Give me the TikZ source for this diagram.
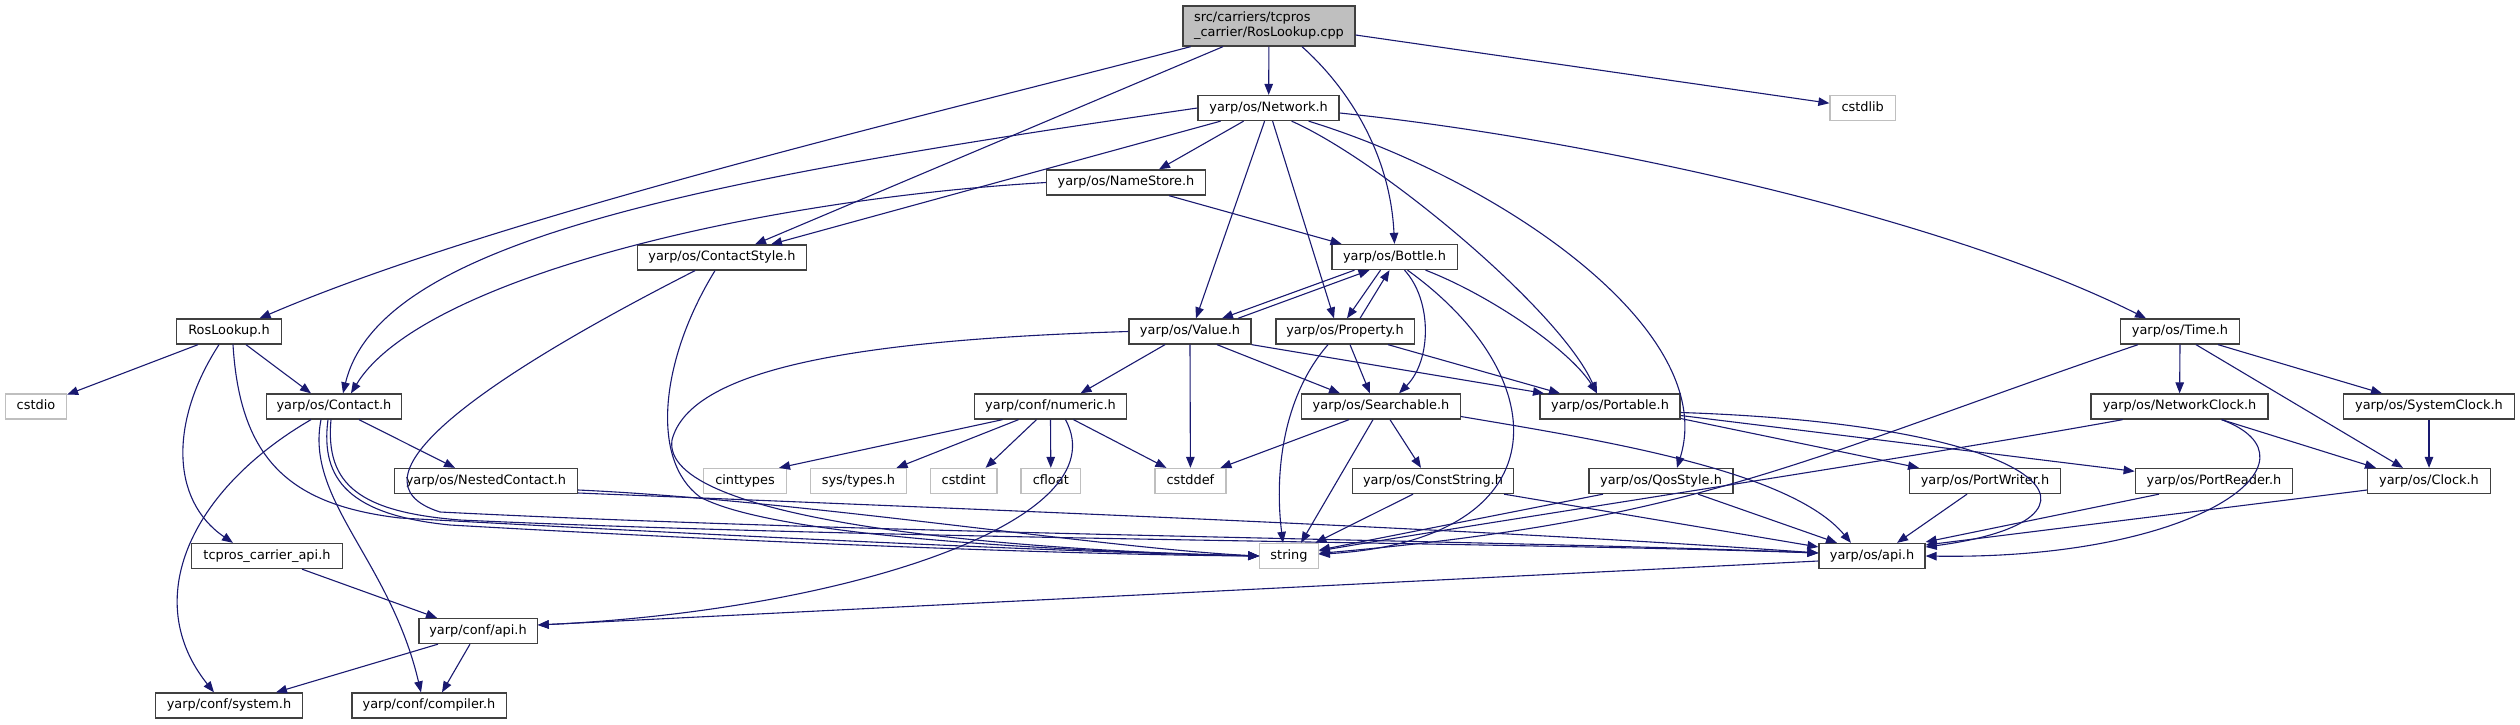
\documentclass[tikz,border=0pt]{standalone}
\usepackage{fontspec}
\setmainfont{DejaVu Sans}
\usetikzlibrary{arrows.meta}
\definecolor{edgeblue}{HTML}{191970}
\definecolor{boxgray}{HTML}{BFBFBF}
\definecolor{boxline}{HTML}{404040}
\newcommand{\dxfont}{\fontsize{12.9}{15}\selectfont}
\begin{document}
\begin{tikzpicture}[x=1pt,y=-1pt,
  incbox/.style={draw=boxline, line width=1.3pt, fill=white, minimum height=25pt, inner sep=0pt, font=\dxfont, text height=9.5pt, text depth=3pt},
  extbox/.style={incbox, draw=boxgray},
  rootbox/.style={draw=boxline, line width=1.3pt, fill=boxgray, minimum height=40pt, inner sep=0pt, font=\dxfont, align=left},
  dep/.style={draw=edgeblue, line width=1.1pt, -{Triangle[length=11pt,width=8.5pt]}}]
\useasboundingbox (0,0) rectangle (2520,724);
% nodes
\node[rootbox, minimum width=172pt] (cpp) at (1269,26) {src/carriers/tcpros\\\_carrier/RosLookup.cpp};
\node[incbox, minimum width=141pt] (network) at (1268.6,108) {yarp/os/Network.h};
\node[extbox, minimum width=65.4pt] (cstdlib) at (1862.7,108) {cstdlib};
\node[incbox, minimum width=158.6pt] (namestore) at (1126,182.5) {yarp/os/NameStore.h};
\node[incbox, minimum width=169pt] (contactstyle) at (722,257.5) {yarp/os/ContactStyle.h};
\node[incbox, minimum width=125.3pt] (bottle) at (1394.5,257) {yarp/os/Bottle.h};
\node[incbox, minimum width=104.5pt] (roslookup) at (229,331.5) {RosLookup.h};
\node[incbox, minimum width=122pt] (value) at (1190,331.5) {yarp/os/Value.h};
\node[incbox, minimum width=138.3pt] (property) at (1345,331.5) {yarp/os/Property.h};
\node[incbox, minimum width=119pt] (time) at (2180,331.5) {yarp/os/Time.h};
\node[extbox, minimum width=61pt] (cstdio) at (36,406.5) {cstdio};
\node[incbox, minimum width=135pt] (contact) at (334,406.5) {yarp/os/Contact.h};
\node[incbox, minimum width=152pt] (numeric) at (1050.5,406.5) {yarp/conf/numeric.h};
\node[incbox, minimum width=158.6pt] (searchable) at (1381,406.5) {yarp/os/Searchable.h};
\node[incbox, minimum width=140pt] (portable) at (1610,406.5) {yarp/os/Portable.h};
\node[incbox, minimum width=177pt] (networkclock) at (2179.6,406.5) {yarp/os/NetworkClock.h};
\node[incbox, minimum width=171pt] (systemclock) at (2429,406.5) {yarp/os/SystemClock.h};
\node[incbox, minimum width=183pt] (nested) at (486,481) {yarp/os/NestedContact.h};
\node[extbox, minimum width=82.5pt] (cinttypes) at (745,481) {cinttypes};
\node[extbox, minimum width=96pt] (systypes) at (858.5,481) {sys/types.h};
\node[extbox, minimum width=66.5pt] (cstdint) at (963.6,481) {cstdint};
\node[extbox, minimum width=59.5pt] (cfloat) at (1050.8,481) {cfloat};
\node[extbox, minimum width=71pt] (cstddef) at (1190.4,481) {cstddef};
\node[incbox, minimum width=160.7pt] (conststring) at (1433,481) {yarp/os/ConstString.h};
\node[incbox, minimum width=144pt] (qosstyle) at (1661,481) {yarp/os/QosStyle.h};
\node[incbox, minimum width=151pt] (portwriter) at (1985,481) {yarp/os/PortWriter.h};
\node[incbox, minimum width=157.5pt] (portreader) at (2214,481) {yarp/os/PortReader.h};
\node[incbox, minimum width=122.6pt] (clock) at (2429,481) {yarp/os/Clock.h};
\node[incbox, minimum width=151pt] (tcpapi) at (267,556) {tcpros\_carrier\_api.h};
\node[extbox, minimum width=58.4pt] (string) at (1289,556) {string};
\node[incbox, minimum width=106pt] (osapi) at (1872,556) {yarp/os/api.h};
\node[incbox, minimum width=118.3pt] (confapi) at (478,631) {yarp/conf/api.h};
\node[incbox, minimum width=146.8pt] (confsystem) at (229,705.5) {yarp/conf/system.h};
\node[incbox, minimum width=154.3pt] (confcompiler) at (429,705.5) {yarp/conf/compiler.h};
% cpp
\draw[dep] (cpp) .. controls (950,110) and (500,215) .. (roslookup);
\draw[dep] ([xshift=-46pt]cpp.south) -- ([xshift=33pt]contactstyle.north);
\draw[dep] (cpp) -- (network);
\draw[dep] ([xshift=33pt]cpp.south) .. controls (1345,85) and (1390,150) .. (bottle.north);
\draw[dep] ([yshift=-9pt]cpp.east) -- (cstdlib);
% network
\draw[dep] (network.west) .. controls (700,180) and (380,240) .. ([xshift=9pt]contact.north);
\draw[dep] ([xshift=-48pt]network.south) -- ([xshift=49pt]contactstyle.north);
\draw[dep] ([xshift=-25pt]network.south) -- ([xshift=33pt]namestore.north);
\draw[dep] ([xshift=-4pt]network.south) -- ([xshift=6pt]value.north);
\draw[dep] ([xshift=4pt]network.south) -- ([xshift=-11pt]property.north);
\draw[dep] ([xshift=23pt]network.south) .. controls (1380,160) and (1560,310) .. ([xshift=-13pt]portable.north);
\draw[dep] ([xshift=40pt]network.south) .. controls (1500,180) and (1720,330) .. ([xshift=16pt]qosstyle.north);
\draw[dep] ([yshift=-5pt]network.east) .. controls (1600,140) and (1950,220) .. ([xshift=-34pt]time.north);
% namestore
\draw[dep] (namestore.west) .. controls (750,200) and (420,280) .. ([xshift=17pt]contact.north);
\draw[dep] ([xshift=43pt]namestore.south) -- ([xshift=-53pt]bottle.north);
% contactstyle
\draw[dep] ([xshift=-27pt]contactstyle.south) .. controls (480,380) and (340,480) .. (440,512) .. controls (900,535) and (1500,540) .. ([yshift=3pt]osapi.west);
\draw[dep] ([xshift=-7pt]contactstyle.south) .. controls (660,360) and (650,460) .. (700,497) .. controls (780,540) and (1100,552) .. (string.west);
% roslookup
\draw[dep] ([xshift=-31pt]roslookup.south) -- (cstdio);
\draw[dep] ([xshift=17pt]roslookup.south) -- ([xshift=-23pt]contact.north);
\draw[dep] ([xshift=-10pt]roslookup.south) .. controls (170,420) and (170,500) .. ([xshift=-34pt]tcpapi.north);
\draw[dep] ([xshift=4pt]roslookup.south) .. controls (240,460) and (290,505) .. (400,518) .. controls (800,540) and (1100,553) .. (string.west);
% contact
\draw[dep] ([xshift=25pt]contact.south) -- ([xshift=-31pt]nested.north);
\draw[dep] ([xshift=-23pt]contact.south) .. controls (190,490) and (140,600) .. ([xshift=-15pt]confsystem.north);
\draw[dep] ([xshift=-13pt]contact.south) .. controls (305,500) and (390,560) .. ([xshift=-8pt]confcompiler.north);
\draw[dep] ([xshift=-6pt]contact.south) .. controls (320,480) and (350,515) .. (450,525) .. controls (800,545) and (1100,555) .. (string.west);
\draw[dep] ([xshift=-3pt]contact.south) .. controls (325,485) and (360,512) .. (460,520) .. controls (900,540) and (1500,542) .. ([yshift=3pt]osapi.west);
% nested
\draw[dep] ([yshift=-9pt]nested.east) .. controls (800,500) and (1100,548) .. (string.west);
\draw[dep] ([yshift=-12pt]nested.east) .. controls (1000,510) and (1500,530) .. ([yshift=3pt]osapi.west);
% tcpapi / conf
\draw[dep] ([xshift=35pt]tcpapi.south) -- ([xshift=-41pt]confapi.north);
\draw[dep] ([xshift=-40pt]confapi.south) -- ([xshift=47pt]confsystem.north);
\draw[dep] ([xshift=-8pt]confapi.south) -- ([xshift=13pt]confcompiler.north);
% bottle
\draw[dep] ([xshift=-40pt]bottle.south) -- ([xshift=32pt]value.north);
\draw[dep] ([xshift=48pt]value.north) -- ([xshift=-25pt]bottle.south);
\draw[dep] ([xshift=-14pt]bottle.south) -- ([xshift=2pt]property.north);
\draw[dep] ([xshift=15pt]property.north) -- ([xshift=-5pt]bottle.south);
\draw[dep] ([xshift=10pt]bottle.south) .. controls (1432,300) and (1432,360) .. ([xshift=18pt]searchable.north);
\draw[dep] ([xshift=13pt]bottle.south) .. controls (1560,380) and (1560,540) .. (string);
\draw[dep] ([xshift=31pt]bottle.south) .. controls (1490,295) and (1570,350) .. ([xshift=-13pt]portable.north);
% value
\draw[dep] ([xshift=-25pt]value.south) -- ([xshift=30pt]numeric.north);
\draw[dep] (value.south) -- (cstddef.north);
\draw[dep] ([xshift=27pt]value.south) -- ([xshift=-41pt]searchable.north);
\draw[dep] (value.south east) -- ([xshift=-66pt]portable.north);
\draw[dep] (value.west) .. controls (850,340) and (690,370) .. (672,440) .. controls (660,520) and (1000,550) .. (string.west);
% property
\draw[dep] ([xshift=-17pt]property.south) .. controls (1280,400) and (1275,480) .. ([xshift=-6pt]string.north);
\draw[dep] ([xshift=5pt]property.south) -- ([xshift=-11pt]searchable.north);
\draw[dep] ([xshift=43pt]property.south) -- ([xshift=-50pt]portable.north);
% numeric
\draw[dep] ([xshift=-48pt]numeric.south) -- ([xshift=34pt]cinttypes.north);
\draw[dep] ([xshift=-32pt]numeric.south) -- ([xshift=38pt]systypes.north);
\draw[dep] ([xshift=-14pt]numeric.south) -- ([xshift=22pt]cstdint.north);
\draw[dep] (numeric.south) -- (cfloat.north);
\draw[dep] ([xshift=23pt]numeric.south) -- ([xshift=-24pt]cstddef.north);
\draw[dep] ([xshift=15pt]numeric.south) .. controls (1120,520) and (850,610) .. ([yshift=6pt]confapi.east);
% searchable
\draw[dep] ([xshift=-32pt]searchable.south) -- ([xshift=30pt]cstddef.north);
\draw[dep] ([xshift=-8pt]searchable.south) -- ([xshift=12pt]string.north);
\draw[dep] ([xshift=9pt]searchable.south) -- ([xshift=-12pt]conststring.north);
\draw[dep] ([yshift=-10pt]searchable.east) .. controls (1600,440) and (1790,470) .. ([xshift=-21pt]osapi.north);
% conststring, qosstyle
\draw[dep] ([xshift=-20pt]conststring.south) -- (string);
\draw[dep] ([xshift=-10pt]conststring.south east) -- (osapi);
\draw[dep] ([xshift=-58pt]qosstyle.south) -- (string);
\draw[dep] ([xshift=37pt]qosstyle.south) -- ([xshift=-35pt]osapi.north);
% portable
\draw[dep] ([yshift=-12pt]portable.east) -- ([xshift=-66pt]portwriter.north);
\draw[dep] ([yshift=-9pt]portable.east) -- (portreader);
\draw[dep] ([yshift=-6pt]portable.east) .. controls (2060,425) and (2130,520) .. ([yshift=9pt]osapi.east);
% time
\draw[dep] ([xshift=-42pt]time.south) .. controls (1800,460) and (1700,520) .. (string);
\draw[dep] (time.south) -- (networkclock.north);
\draw[dep] ([xshift=16pt]time.south) -- ([xshift=-26pt]clock.north);
\draw[dep] ([xshift=38pt]time.south) -- ([xshift=-47pt]systemclock.north);
% networkclock
\draw[dep] ([xshift=-57pt]networkclock.south) .. controls (1900,460) and (1500,520) .. (string);
\draw[dep] ([xshift=42pt]networkclock.south) -- ([xshift=-53pt]clock.north);
\draw[dep] ([xshift=42pt]networkclock.south) .. controls (2330,460) and (2200,560) .. (osapi.east);
% clocks, ports
\draw[dep] (systemclock) -- (clock);
\draw[dep] ([yshift=-9pt]clock.west) -- ([yshift=11pt]osapi.east);
\draw[dep] ([xshift=-18pt]portwriter.south) -- ([xshift=25pt]osapi.north);
\draw[dep] ([xshift=-55pt]portreader.south) -- ([yshift=14pt]osapi.east);
% osapi
\draw[dep] ([yshift=-5pt]osapi.west) -- ([yshift=6pt]confapi.east);
\end{tikzpicture}
\end{document}
